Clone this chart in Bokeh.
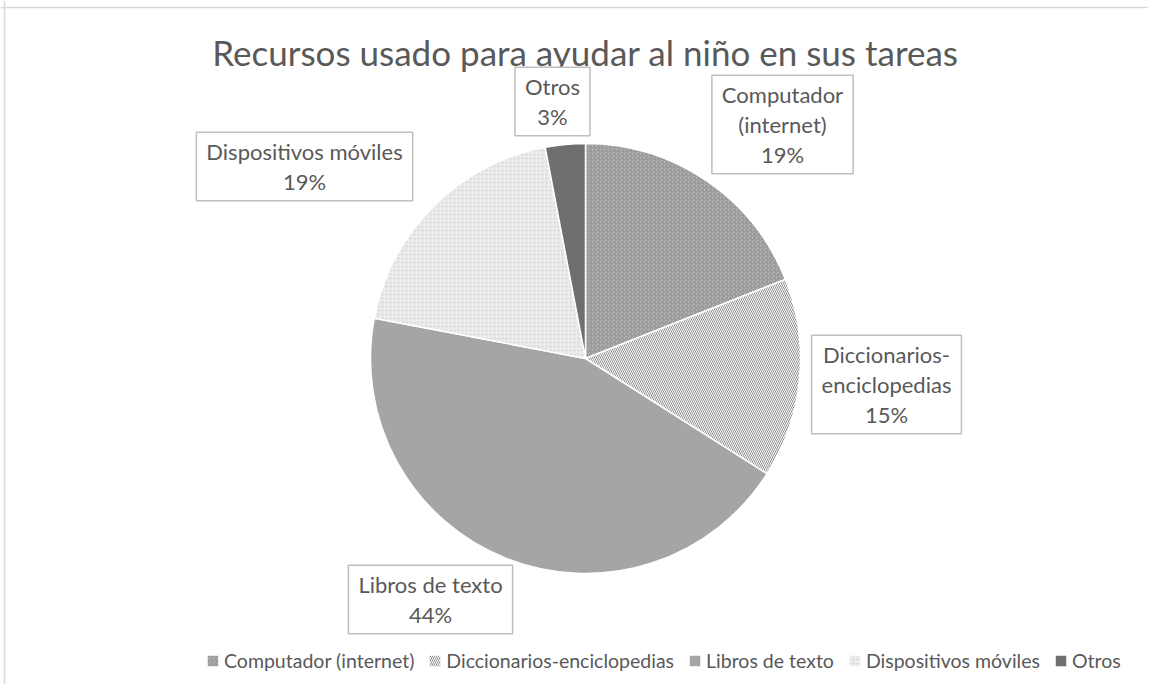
import math
from bokeh.plotting import figure
from bokeh.models import ColumnDataSource, Range1d, Legend, LegendItem, Span
from bokeh.core.properties import value
from bokeh.embed import file_html
from bokeh.resources import INLINE

# ---- data ----
categories = ["Computador (internet)", "Diccionarios-enciclopedias", "Libros de texto",
              "Dispositivos móviles", "Otros"]
label_lines = ["Computador\n(internet)", "Diccionarios-\nenciclopedias", "Libros de texto",
               "Dispositivos móviles", "Otros"]
percent = [19, 15, 44, 19, 3]
title_text = "Recursos usado para ayudar al niño en sus tareas"

# ---- styles ----
fill_colors = ["#c6c6c6", "#ffffff", "#a5a5a5", "#ececec", "#6f6f6f"]
hatch_patterns = ["criss_cross", "left_diagonal_line", " ", "dot", " "]
hatch_colors = ["#979797", "#8e8e8e", "#a5a5a5", "#d2d2d2", "#6f6f6f"]
hatch_weights = [1.2, 1.0, 1.0, 1.0, 1.0]
TEXT = "#595959"
FONT = "Lato"

# ---- layout (pixels, y up from bottom of figure) ----
W, H = 1148, 684
cx, cy, R = 585, 326, 215
label_pos = [(782, 560), (886, 300), (430, 85), (304, 518), (552, 583)]

total = float(sum(percent))
starts, ends = [], []
cum = 0.0
for v in percent:
    a0 = math.pi / 2 - 2 * math.pi * (cum + v) / total
    a1 = math.pi / 2 - 2 * math.pi * cum / total
    starts.append(a0)
    ends.append(a1)
    cum += v

src = ColumnDataSource(dict(
    cat=categories, pct=percent, start=starts, end=ends,
    fill=fill_colors, hp=hatch_patterns, hc=hatch_colors, hw=hatch_weights,
))

p = figure(width=W, height=H, x_range=Range1d(0, W), y_range=Range1d(0, H),
           output_backend="svg", toolbar_location=None, min_border=0)
p.axis.visible = False
p.grid.visible = False
p.outline_line_color = None
p.background_fill_color = "white"
p.border_fill_color = "white"

# chart frame lines (top and left)
p.add_layout(Span(location=H - 7, dimension="width", line_color="#d9d9d9", line_width=1.5))
p.add_layout(Span(location=4, dimension="height", line_color="#d9d9d9", line_width=1.5))

r = p.wedge(x=cx, y=cy, radius=R, start_angle="start", end_angle="end", source=src,
            fill_color="fill", hatch_pattern="hp", hatch_color="hc", hatch_scale=4,
            hatch_weight="hw", line_color="white", line_width=1.5)

# title
p.text(x=[cx], y=[H - 51], text=[title_text], text_align="center", text_baseline="middle",
       text_font=value(FONT), text_font_size="35px", text_color=TEXT)

# data labels
lbl = ColumnDataSource(dict(
    x=[q[0] for q in label_pos], y=[q[1] for q in label_pos],
    t=[f"{n}\n{v}%" for n, v in zip(label_lines, percent)],
))
p.text(x="x", y="y", text="t", source=lbl, text_align="center", text_baseline="middle",
       text_font=value(FONT), text_font_size="22px", text_color=TEXT, text_line_height=1.1,
       background_fill_color="white", border_line_color="#bfbfbf", border_line_width=1.5,
       padding=(10, 6))

legend = Legend(items=[LegendItem(label=c, renderers=[r], index=i) for i, c in enumerate(categories)],
                orientation="horizontal", location=(205, 12), glyph_width=15, glyph_height=15,
                label_standoff=4, spacing=13, padding=0, margin=0, border_line_alpha=0,
                background_fill_alpha=0, label_text_font=FONT, label_text_font_size="19.5px",
                label_text_color=TEXT)
p.add_layout(legend)

open("out.html", "w").write(file_html(p, INLINE))
